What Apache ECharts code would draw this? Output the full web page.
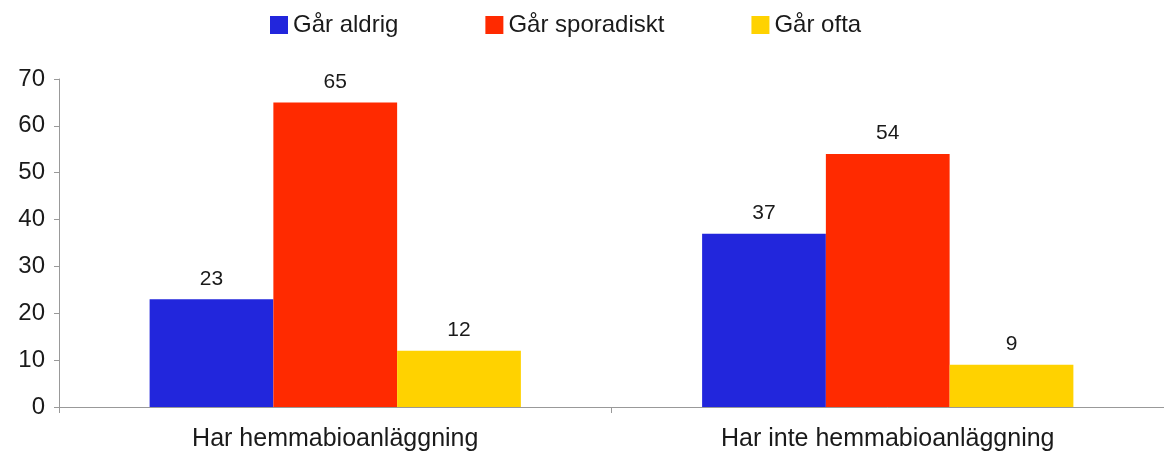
<!DOCTYPE html>
<html>
<head>
<meta charset="utf-8">
<script src="https://cdn.jsdelivr.net/npm/echarts@6/dist/echarts.min.js"></script>
<style>
  html, body { margin: 0; padding: 0; background: #fff; }
  #chart { width: 1164px; height: 460px; }
</style>
</head>
<body>
<div id="chart"></div>
<script>
const categories = ['Har hemmabioanläggning', 'Har inte hemmabioanläggning']
const seriesNames = ['Går aldrig', 'Går sporadiskt', 'Går ofta']
const aldrig = [23, 37]
const sporadiskt = [65, 54]
const ofta = [12, 9]
const yTicks = [0, 10, 20, 30, 40, 50, 60, 70]

const colors = ['#2226dc', '#ff2a00', '#ffd200']
const font = 'Liberation Sans, Arial, Helvetica, sans-serif'

const chart = echarts.init(document.getElementById('chart'))

function bar(name, data, color) {
  return {
    name: name,
    type: 'bar',
    data: data,
    barWidth: '22.4%',
    barGap: '0%',
    itemStyle: { color: color },
    label: {
      show: true,
      position: 'top',
      distance: 10,
      color: '#1a1a1a',
      fontFamily: font,
      fontSize: 21
    }
  }
}

chart.setOption({
  animation: false,
  textStyle: { fontFamily: font },
  legend: {
    top: 13,
    left: 270,
    padding: 0,
    itemWidth: 18,
    itemHeight: 18,
    itemGap: 87,
    icon: 'rect',
    textStyle: { fontFamily: font, fontSize: 24, color: '#1a1a1a' },
    data: seriesNames
  },
  grid: {
    left: 59,
    right: -3,
    top: 79,
    bottom: 53,
    containLabel: false
  },
  xAxis: {
    type: 'category',
    data: categories,
    axisLine: { lineStyle: { color: '#999', width: 1 } },
    axisTick: { show: true, length: 6, lineStyle: { color: '#999' } },
    axisLabel: {
      color: '#1a1a1a',
      fontFamily: font,
      fontSize: 25,
      margin: 20
    }
  },
  yAxis: {
    type: 'value',
    min: yTicks[0],
    max: yTicks[yTicks.length - 1],
    interval: 10,
    axisLine: { show: true, lineStyle: { color: '#999', width: 1 } },
    axisTick: { show: true, length: 5, lineStyle: { color: '#999' } },
    splitLine: { show: false },
    axisLabel: {
      color: '#1a1a1a',
      fontFamily: font,
      fontSize: 24,
      margin: 14
    }
  },
  series: [
    bar(seriesNames[0], aldrig, colors[0]),
    bar(seriesNames[1], sporadiskt, colors[1]),
    bar(seriesNames[2], ofta, colors[2])
  ]
})
</script>
</body>
</html>
